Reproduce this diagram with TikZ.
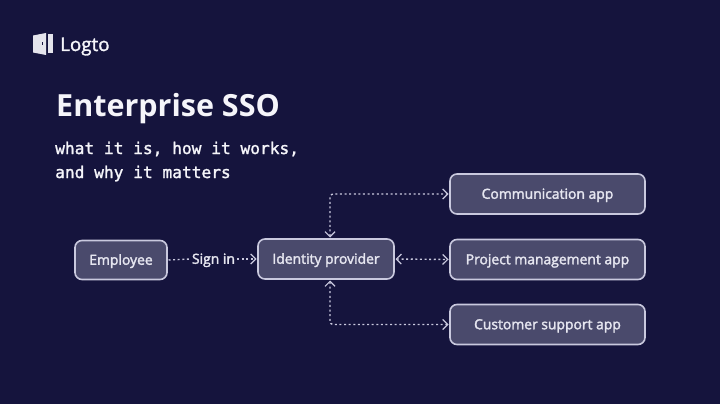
\documentclass[tikz,border=0pt]{standalone}
\usepackage{fontspec}
\usetikzlibrary{arrows.meta}
\setmainfont{Open Sans}
\newfontfamily\monof{DejaVu Sans Mono}
\newcommand\heavy[2]{\special{pdf:code 2 Tr #1 w}#2\special{pdf:code 0 Tr 1 w}}
\definecolor{bgc}{HTML}{15143D}
\definecolor{boxf}{HTML}{4A4A6C}
\definecolor{boxl}{HTML}{C9C9DE}
\definecolor{txt}{HTML}{E6E6F0}
\definecolor{ttl}{HTML}{F5F5FA}
\tikzset{
  x=1pt,y=-1pt,
  box/.style={draw=boxl,fill=boxf,line width=1.6pt,rounded corners=7pt,outer sep=1.5pt,inner sep=0pt,text=txt,font=\fontsize{13.9}{15}\selectfont,align=center,text height=9.5pt,text depth=0pt},
  link/.style={draw=boxl,line width=1.4pt,dash pattern=on 2pt off 2.6pt},
  tip/.style={-{Straight Barb[length=5pt,width=10pt,line width=1.2pt]}},
  tips/.style={{Straight Barb[length=5pt,width=10pt,line width=1.2pt]}-{Straight Barb[length=5pt,width=10pt,line width=1.2pt]}},
  lbl/.style={text=ttl,anchor=base west,inner sep=0pt}
}
\begin{document}
\begin{tikzpicture}
\fill[bgc] (0,0) rectangle (720,404);
\useasboundingbox (0,0) rectangle (720,404);
% logo
\fill[ttl!90!boxf] (33,35.5) -- (46,33) -- (46,55) -- (33,52.5) -- cycle;
\fill[ttl!90!boxf] (48,34.5) rectangle (52.5,53.5);
\fill[bgc] (41.5,42.5) rectangle (43,45.5);
\node[lbl,font=\fontsize{18.8}{22}\selectfont] (brand) at (60,51) {\heavy{0.3}{Logto}};
\node[lbl,font=\fontsize{30.5}{34}\selectfont\bfseries] (title) at (56,116.5) {Enterprise SSO};
\node[lbl,font=\monof\fontsize{16.2}{20}\selectfont] (sub1) at (55,154) {\heavy{0.25}{what it is, how it works,}};
\node[lbl,font=\monof\fontsize{16.2}{20}\selectfont] (sub2) at (55,178) {\heavy{0.25}{and why it matters}};
% boxes
\node[box,minimum width=92pt,minimum height=39pt] (emp) at (121,260) {\heavy{0.3}{Employee}};
\node[box,minimum width=136pt,minimum height=40pt] (idp) at (326,259) {\heavy{0.3}{Identity provider}};
\node[box,minimum width=195pt,minimum height=40pt] (comm) at (547.5,194) {\heavy{0.3}{Communication app}};
\node[box,minimum width=195pt,minimum height=40pt] (proj) at (547.5,259.5) {\heavy{0.3}{Project management app}};
\node[box,minimum width=195pt,minimum height=40pt] (cust) at (547.5,324.5) {\heavy{0.3}{Customer support app}};
\node[text=txt,inner sep=2pt,font=\fontsize{13.9}{15}\selectfont,text height=9.5pt,text depth=0pt] (sign) at (213.5,259) {\heavy{0.3}{Sign in}};
% connectors
\coordinate (topa) at ([xshift=4pt]idp.north);
\coordinate (bota) at ([xshift=4pt]idp.south);
\draw[link] (emp.east) -- (sign.west);
\draw[link,tip] (sign.east) -- (idp.west);
\draw[link,tips,rounded corners=3pt] (topa) |- (comm.west);
\draw[link,tips] (idp.east) -- (proj.west);
\draw[link,tips,rounded corners=3pt] (bota) |- (cust.west);
\end{tikzpicture}
\end{document}
